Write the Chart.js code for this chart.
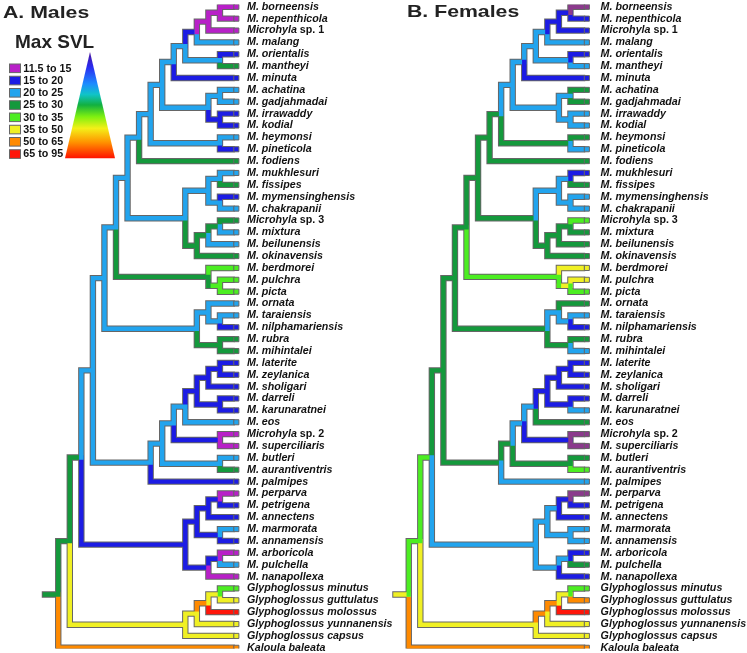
<!DOCTYPE html>
<html>
<head>
<meta charset="utf-8">
<script src="https://cdn.jsdelivr.net/npm/chart.js@4.4.0/dist/chart.umd.min.js"></script>
<style>
 html, body { margin: 0; padding: 0; background: #fff; }
 #wrap { position: relative; width: 747px; height: 653px; }
</style>
</head>
<body>
<div id="wrap"><canvas id="treeChart"></canvas></div>
<script>
// tip labels, top to bottom
const taxa = [
 "M. borneensis", "M. nepenthicola", "Microhyla sp. 1", "M. malang", "M. orientalis",
 "M. mantheyi", "M. minuta", "M. achatina", "M. gadjahmadai", "M. irrawaddy",
 "M. kodial", "M. heymonsi", "M. pineticola", "M. fodiens", "M. mukhlesuri",
 "M. fissipes", "M. mymensinghensis", "M. chakrapanii", "Microhyla sp. 3", "M. mixtura",
 "M. beilunensis", "M. okinavensis", "M. berdmorei", "M. pulchra", "M. picta",
 "M. ornata", "M. taraiensis", "M. nilphamariensis", "M. rubra", "M. mihintalei",
 "M. laterite", "M. zeylanica", "M. sholigari", "M. darreli", "M. karunaratnei",
 "M. eos", "Microhyla sp. 2", "M. superciliaris", "M. butleri", "M. aurantiventris",
 "M. palmipes", "M. perparva", "M. petrigena", "M. annectens", "M. marmorata",
 "M. annamensis", "M. arboricola", "M. pulchella", "M. nanapollexa", "Glyphoglossus minutus",
 "Glyphoglossus guttulatus", "Glyphoglossus molossus", "Glyphoglossus yunnanensis", "Glyphoglossus capsus", "Kaloula baleata"
];

// internal nodes, numbered from 55 on; each one joins two earlier ids
const cladeKids = [
 [0, 1], [55, 2], [56, 3], [4, 5], [57, 58], [59, 6], [7, 8], [9, 10], [61, 62], [60, 63],
 [11, 12], [64, 65], [66, 13], [14, 15], [16, 17], [68, 69], [18, 19], [71, 20], [72, 21], [70, 73],
 [67, 74], [23, 24], [22, 76], [75, 77], [26, 27], [25, 79], [28, 29], [80, 81], [78, 82], [30, 31],
 [84, 32], [33, 34], [85, 86], [87, 35], [36, 37], [88, 89], [38, 39], [90, 91], [92, 40], [83, 93],
 [41, 42], [95, 43], [44, 45], [96, 97], [46, 47], [99, 48], [98, 100], [94, 101], [49, 50], [103, 51],
 [104, 52], [105, 53], [102, 106], [107, 54]
];

// SVL class of each tip branch (P, Q purple, B dark blue, L light blue, G green, LG light green, Y, O, R)
const maleTipCols = [
 "P", "P", "P", "L", "B", "G", "B", "L", "L", "B", "B", "L", "B", "G", "L", "G", "B", "L", "G", "L",
 "L", "G", "LG", "LG", "LG", "L", "L", "B", "G", "G", "B", "B", "B", "B", "B", "L", "P", "P", "L", "G",
 "B", "P", "B", "B", "L", "B", "P", "L", "P", "LG", "Y", "R", "Y", "Y", "O"
];
const femaleTipCols = [
 "Q", "B", "B", "L", "B", "L", "B", "G", "G", "L", "L", "G", "L", "G", "B", "G", "L", "L", "LG", "G",
 "G", "G", "Y", "Y", "LG", "G", "L", "B", "G", "L", "B", "B", "B", "B", "L", "G", "Q", "Q", "G", "LG",
 "L", "Q", "B", "B", "L", "L", "B", "G", "B", "LG", "O", "R", "Y", "Y", "O"
];

// class of the branch leading to each internal node ("X>Y": vertical X, horizontal Y)
const maleNodeCols = [
 "P", "P", "B", "L", "L", "L", "L", "B", "L", "L",
 "L", "L", "L", "L", "L", "L", "G", "G", "G", "L",
 "L", "G>LG", "G", "L", "L", "L", "G", "L", "L", "B",
 "B", "B", "B", "L", "B", "L", "L", "L", "L", "L",
 "B", "B", "B", "B", "B", "B", "B", "G", "Y", "O",
 "Y", "Y", "G", "G"
];
const femaleNodeCols = [
 "B", "B", "L", "L", "L", "L", "L", "L", "L", "L",
 "G", "G", "G", "L", "L", "L", "G", "G", "G", "G",
 "G", "LG>Y", "LG", "G", "L", "L", "G", "G", "G", "B",
 "B", "B", "B", "L", "B", "L", "G", "G", "G", "G",
 "B", "L", "L", "L", "L", "L", "L", "LG", "Y", "O",
 "O", "Y", "LG", "Y"
];

const legendLabels = ["11.5 to 15", "15 to 20", "20 to 25", "25 to 30", "30 to 35", "35 to 50", "50 to 65", "65 to 95"];
const legendCols = ["P", "B", "L", "G", "LG", "Y", "O", "R"];

const palette = {
 P: "#b820c8", Q: "#8b3a8c", B: "#1c1ce4", L: "#22a4ee", G: "#14993c",
 LG: "#4cee22", Y: "#f0f024", O: "#ff8a00", R: "#ff160a"
};
const OUTLINE = "#666666";

// page geometry: px per node level, tip position of each panel, row spacing
const LEVEL_PX = 11.55;
const ROW_PX = 11.87;
const FIRST_ROW_PX = 6.8;

// one panel: branches (outline + colours) and tip squares
function panelDatasets(tipCols, nodeCols, axis) {
 const n = taxa.length;
 const h = [], y = [], col = [], parent = [];
 for (let i = 0; i < n; i++) { h[i] = 0; y[i] = i; col[i] = tipCols[i]; }
 cladeKids.forEach(function (k, j) {
  const id = n + j;
  h[id] = Math.max(h[k[0]], h[k[1]]) + 1;
  y[id] = (y[k[0]] + y[k[1]]) / 2;
  col[id] = nodeCols[j];
  parent[k[0]] = id;
  parent[k[1]] = id;
 });
 const root = n + cladeKids.length - 1;

 const outline = [];
 const byCol = {};
 const gap = { x: null, y: null };
 function add(c, pts) {
  if (!byCol[c]) byCol[c] = [];
  byCol[c].push(...pts, gap);
 }

 for (let id = 0; id <= root; id++) {
  let pts;
  let parts;
  if (id === root) {
   pts = [{ x: h[id] + 1.15, y: y[id] }, { x: h[id], y: y[id] }];
   outline.push(...pts, gap);
   add(col[id], pts);
   continue;
  }
  const p = parent[id];
  pts = [{ x: h[p], y: y[p] }, { x: h[p], y: y[id] }, { x: h[id], y: y[id] }];
  outline.push(...pts, gap);
  parts = col[id].split(">");
  if (parts.length === 1) {
   add(parts[0], pts);
  } else {
   add(parts[0], [pts[0], pts[1]]);
   add(parts[1], [pts[1], pts[2]]);
  }
 }

 const sets = [{
  data: outline, xAxisID: axis, showLine: true, borderColor: OUTLINE, borderWidth: 6.4,
  borderCapStyle: "square", borderJoinStyle: "miter", pointRadius: 0, pointHoverRadius: 0, order: 3
 }];
 Object.keys(byCol).forEach(function (c) {
  sets.push({
   data: byCol[c], xAxisID: axis, showLine: true, borderColor: palette[c], borderWidth: 4.4,
   borderCapStyle: "square", borderJoinStyle: "miter", pointRadius: 0, pointHoverRadius: 0, order: 2
  });
 });
 sets.push({
  data: taxa.map(function (t, i) { return { x: -0.42, y: i }; }),
  xAxisID: axis, showLine: false, pointStyle: "rect", pointRadius: 3.6, pointHoverRadius: 3.6,
  pointBackgroundColor: tipCols.map(function (c) { return palette[c]; }),
  pointBorderColor: OUTLINE, pointBorderWidth: 1, order: 1
 });
 return sets;
}

const panels = [
 { axis: "xL", tipPx: 231.5, title: "A. Males", titleX: 3, titleY: 17.5, labelGap: 15.5 },
 { axis: "xR", tipPx: 582, title: "B. Females", titleX: 407, titleY: 17, labelGap: 18.6 }
];

// set axis ranges so that the layout matches the page geometry above
function fitScales(chart) {
 const a = chart.chartArea;
 const w = a.right - a.left;
 const hgt = a.bottom - a.top;
 const sc = chart.options.scales;
 panels.forEach(function (p) {
  sc[p.axis].max = (p.tipPx - a.left) / LEVEL_PX;
  sc[p.axis].min = sc[p.axis].max - w / LEVEL_PX;
 });
 sc.y.min = (a.top - FIRST_ROW_PX) / ROW_PX;
 sc.y.max = sc.y.min + hgt / ROW_PX;
 chart.update();
}

const textPlugin = {
 id: "treeText",
 afterDraw: function (chart) {
  const ctx = chart.ctx;
  const yS = chart.scales.y;
  ctx.save();
  ctx.textBaseline = "middle";
  ctx.fillStyle = "#111";
  panels.forEach(function (p) {
   const x0 = chart.scales[p.axis].getPixelForValue(0) + p.labelGap;
   taxa.forEach(function (name, i) {
    const yy = yS.getPixelForValue(i);
    const m = name.match(/^(Microhyla)( sp\. \d)$/);
    ctx.font = "italic bold 10.7px 'Liberation Sans', Arial, sans-serif";
    if (m) {
     ctx.fillText(m[1], x0, yy);
     const w = ctx.measureText(m[1]).width;
     ctx.font = "bold 10.7px 'Liberation Sans', Arial, sans-serif";
     ctx.fillText(m[2], x0 + w, yy);
    } else {
     ctx.fillText(name, x0, yy);
    }
   });
   // panel title, slightly widened
   ctx.save();
   ctx.textBaseline = "alphabetic";
   ctx.fillStyle = "#222";
   ctx.font = "bold 17px 'Liberation Sans', Arial, sans-serif";
   ctx.translate(p.titleX, p.titleY);
   ctx.scale(1.25, 1);
   ctx.fillText(p.title, 0, 0);
   ctx.restore();
  });

  // legend
  ctx.textBaseline = "alphabetic";
  ctx.fillStyle = "#222";
  ctx.font = "bold 19px 'Liberation Sans', Arial, sans-serif";
  ctx.fillText("Max SVL", 15, 48);
  ctx.textBaseline = "middle";
  legendLabels.forEach(function (lab, k) {
   const cy = 68.3 + 12.25 * k;
   ctx.fillStyle = palette[legendCols[k]];
   ctx.fillRect(9.5, cy - 4.3, 11, 8.6);
   ctx.strokeStyle = OUTLINE;
   ctx.lineWidth = 1;
   ctx.strokeRect(9.5, cy - 4.3, 11, 8.6);
   ctx.fillStyle = "#111";
   ctx.font = "bold 10.7px 'Liberation Sans', Arial, sans-serif";
   ctx.fillText(lab, 23.3, cy + 0.5);
  });

  // colour ramp triangle
  const g = ctx.createLinearGradient(0, 52, 0, 158);
  g.addColorStop(0, "#4a149c");
  g.addColorStop(0.14, "#2a2af0");
  g.addColorStop(0.3, "#1c8cff");
  g.addColorStop(0.4, "#10c4c8");
  g.addColorStop(0.5, "#12b040");
  g.addColorStop(0.61, "#7ef010");
  g.addColorStop(0.72, "#f4f018");
  g.addColorStop(0.85, "#ff9400");
  g.addColorStop(1, "#ff1400");
  ctx.fillStyle = g;
  ctx.beginPath();
  ctx.moveTo(90, 52);
  ctx.lineTo(115, 158.3);
  ctx.lineTo(65, 158.3);
  ctx.closePath();
  ctx.fill();
  ctx.restore();
 }
};

document.addEventListener("DOMContentLoaded", function () {
 const ctx = document.getElementById("treeChart").getContext("2d");
 const datasets = panelDatasets(maleTipCols, maleNodeCols, "xL")
  .concat(panelDatasets(femaleTipCols, femaleNodeCols, "xR"));

 window.treeChart = new Chart(ctx, {
  type: "scatter",
  data: { datasets: datasets },
  options: {
   responsive: true,
   maintainAspectRatio: false,
   animation: false,
   layout: { padding: 0 },
   plugins: { legend: { display: false }, tooltip: { enabled: false } },
   scales: {
    xL: { type: "linear", display: false, reverse: true, min: -44, max: 20 },
    xR: { type: "linear", display: false, reverse: true, min: -14, max: 50 },
    y: { type: "linear", display: false, reverse: true, min: -0.6, max: 54.4 }
   }
  },
  plugins: [textPlugin]
 });
 fitScales(window.treeChart);
});
</script>
</body>
</html>
